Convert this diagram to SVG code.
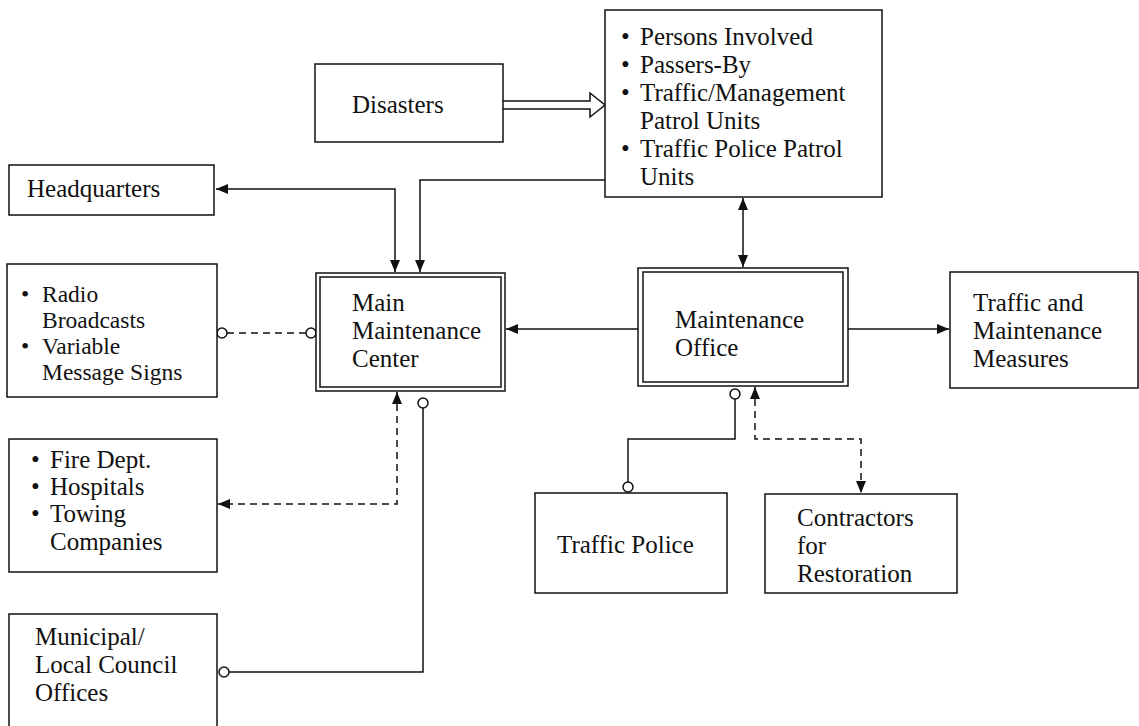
<svg xmlns="http://www.w3.org/2000/svg" width="1139" height="726" viewBox="0 0 1139 726">
<style>
.box{fill:#fff;stroke:#111;stroke-width:1.5}
.t{font-family:"Liberation Serif","Times New Roman",serif;font-size:25px;fill:#111}
.s{font-size:23.5px}
.ln{fill:none;stroke:#111;stroke-width:1.5}
.dash{fill:none;stroke:#111;stroke-width:1.5;stroke-dasharray:7 5}
.circ{fill:#fff;stroke:#111;stroke-width:1.5}
</style>
<defs>
<marker id="ah" viewBox="0 0 12 10" refX="12" refY="5" markerWidth="12" markerHeight="10" markerUnits="userSpaceOnUse" orient="auto-start-reverse">
<path d="M0,0 L12,5 L0,10 Z" fill="#111"/>
</marker>
</defs>
<rect width="1139" height="726" fill="#fff"/>

<g id="connectors">
<path d="M503,101 H590 V93 L605,105 L590,117 V109 H503" class="ln" fill="#fff"/>
<path d="M395,272 V189 H216" class="ln" marker-start="url(#ah)" marker-end="url(#ah)"/>
<path d="M605,180 H420 V272" class="ln" marker-end="url(#ah)"/>
<path d="M638,329 H506" class="ln" marker-end="url(#ah)"/>
<path d="M848,329 H949" class="ln" marker-end="url(#ah)"/>
<path d="M743,198 V267" class="ln" marker-start="url(#ah)" marker-end="url(#ah)"/>
<line x1="227" y1="333" x2="306" y2="333" class="dash"/>
<circle cx="222" cy="333" r="5" class="circ"/>
<circle cx="311" cy="333" r="5" class="circ"/>
<path d="M397,392 V504 H218" class="dash" marker-start="url(#ah)" marker-end="url(#ah)"/>
<path d="M423,408 V672 H229" class="ln"/>
<circle cx="423" cy="403" r="5" class="circ"/>
<circle cx="224" cy="672" r="5" class="circ"/>
<path d="M735,399 V439 H628 V482" class="ln"/>
<circle cx="735" cy="394" r="5" class="circ"/>
<circle cx="628" cy="487" r="5" class="circ"/>
<path d="M755,387 V439 H861 V493" class="dash" marker-start="url(#ah)" marker-end="url(#ah)"/>
</g>

<g id="disasters">
<rect x="315" y="64" width="188" height="78" class="box"/>
<text x="352" y="113" class="t">Disasters</text>
</g>

<g id="persons">
<rect x="605" y="10" width="277" height="187" class="box"/>
<text class="t"><tspan x="621" y="45">•</tspan><tspan x="640" y="45">Persons Involved</tspan>
<tspan x="621" y="73">•</tspan><tspan x="640" y="73">Passers-By</tspan>
<tspan x="621" y="101">•</tspan><tspan x="640" y="101">Traffic/Management</tspan>
<tspan x="640" y="129">Patrol Units</tspan>
<tspan x="621" y="157">•</tspan><tspan x="640" y="157">Traffic Police Patrol</tspan>
<tspan x="640" y="185">Units</tspan></text>
</g>

<g id="headquarters">
<rect x="9" y="165" width="205" height="50" class="box"/>
<text x="27" y="197" class="t">Headquarters</text>
</g>

<g id="radio">
<rect x="7" y="264" width="210" height="133" class="box"/>
<text class="t s"><tspan x="21" y="302">•</tspan><tspan x="42" y="302">Radio</tspan>
<tspan x="42" y="328">Broadcasts</tspan>
<tspan x="21" y="354">•</tspan><tspan x="42" y="354">Variable</tspan>
<tspan x="42" y="380">Message Signs</tspan></text>
</g>

<g id="main-center">
<rect x="316" y="273" width="189" height="118" class="box"/>
<rect x="320" y="277" width="181" height="110" class="box"/>
<text class="t"><tspan x="352" y="311">Main</tspan>
<tspan x="352" y="339">Maintenance</tspan>
<tspan x="352" y="367">Center</tspan></text>
</g>

<g id="maintenance-office">
<rect x="638" y="268" width="210" height="118" class="box"/>
<rect x="643" y="272" width="200" height="110" class="box"/>
<text class="t"><tspan x="675" y="328">Maintenance</tspan>
<tspan x="675" y="356">Office</tspan></text>
</g>

<g id="measures">
<rect x="950" y="272" width="188" height="116" class="box"/>
<text class="t"><tspan x="973" y="311">Traffic and</tspan>
<tspan x="973" y="339">Maintenance</tspan>
<tspan x="973" y="367">Measures</tspan></text>
</g>

<g id="fire">
<rect x="9" y="439" width="208" height="133" class="box"/>
<text class="t"><tspan x="31" y="468">•</tspan><tspan x="50" y="468">Fire Dept.</tspan>
<tspan x="31" y="495">•</tspan><tspan x="50" y="495">Hospitals</tspan>
<tspan x="31" y="522">•</tspan><tspan x="50" y="522">Towing</tspan>
<tspan x="50" y="550">Companies</tspan></text>
</g>

<g id="municipal">
<rect x="9" y="614" width="208" height="130" class="box"/>
<text class="t"><tspan x="35" y="645">Municipal/</tspan>
<tspan x="35" y="673">Local Council</tspan>
<tspan x="35" y="701">Offices</tspan></text>
</g>

<g id="police">
<rect x="535" y="493" width="192" height="100" class="box"/>
<text x="557" y="553" class="t">Traffic Police</text>
</g>

<g id="contractors">
<rect x="765" y="494" width="192" height="99" class="box"/>
<text class="t"><tspan x="797" y="526">Contractors</tspan>
<tspan x="797" y="554">for</tspan>
<tspan x="797" y="582">Restoration</tspan></text>
</g>
</svg>
